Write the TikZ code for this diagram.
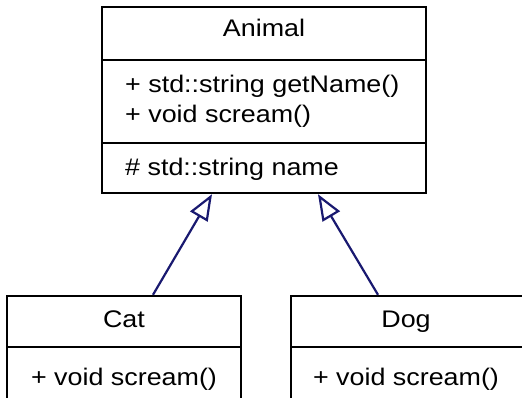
\documentclass[tikz,border=0pt]{standalone}
\usepackage{fontspec}
\setmainfont{Liberation Sans}[FakeStretch=1.12]
\usetikzlibrary{arrows.meta}
\definecolor{edgeblue}{RGB}{25,25,112}
\tikzset{
  classbox/.style={draw=black, line width=2.4pt, fill=white, rectangle, inner sep=0pt},
  divider/.style={draw=black, line width=2.4pt},
  label/.style={anchor=base, inner sep=0pt, font=\fontsize{24}{30}\selectfont},
  member/.style={anchor=base west, inner sep=0pt, font=\fontsize{24}{30}\selectfont, align=left},
  inherits/.style={draw=edgeblue, line width=2.2pt,
    -{Triangle[open, length=26pt, width=20pt, fill=white]}},
}
\begin{document}
\begin{tikzpicture}[x=1pt, y=-1pt]
  \useasboundingbox (0,0) rectangle (522,398);
  \clip (0,0) rectangle (522,398);
  \fill[white] (0,0) rectangle (522,398);

  % base class
  \node[classbox, minimum width=324pt, minimum height=186pt] (animal) at (264,100) {};
  \draw[divider] (102,60) -- (426,60);
  \draw[divider] (102,143) -- (426,143);
  \node[label] (animalname) at (264,37) {Animal};
  \node[member] (animalops) at (125,93) {+ std::string getName()};
  \node[member] (animalops2) at (125,123) {+ void scream()};
  \node[member] (animalattr) at (125,176) {\# std::string name};

  % derived classes
  \node[classbox, minimum width=234pt, minimum height=124pt] (cat) at (124,358) {};
  \draw[divider] (7,347) -- (241,347);
  \node[label] (catname) at (124,327) {Cat};
  \node[label] (catops) at (124,385) {+ void scream()};

  \node[classbox, minimum width=234pt, minimum height=124pt] (dog) at (408,358) {};
  \draw[divider] (291,347) -- (525,347);
  \node[label] (dogname) at (406,327) {Dog};
  \node[label] (dogops) at (406,385) {+ void scream()};

  % generalisation arrows
  \draw[inherits] ([xshift=29pt]cat.north) -- ([xshift=-52pt]animal.south);
  \draw[inherits] ([xshift=-30pt]dog.north) -- ([xshift=54pt]animal.south);
\end{tikzpicture}
\end{document}
